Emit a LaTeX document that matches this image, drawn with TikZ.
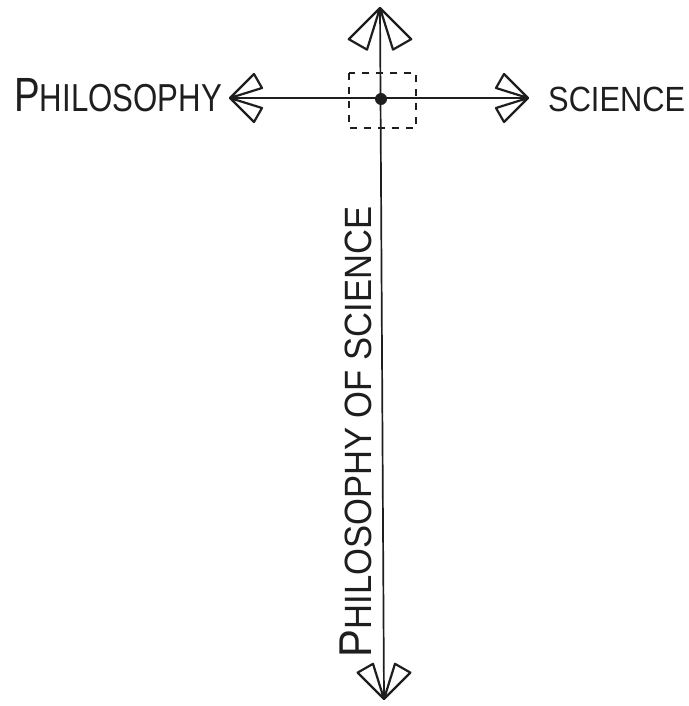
\documentclass[tikz,border=0pt]{standalone}
\usepackage{fontspec}
\setmainfont{Liberation Sans}
\definecolor{ink}{HTML}{1E1E1E}
\tikzset{
  axis/.style={draw=ink, line width=1.7pt},
  barb/.style={draw=ink, line width=2.2pt, line join=round, fill=white},
  dashbox/.style={draw=ink, line width=1.4pt, dash pattern=on 7pt off 7pt},
  lbl/.style={inner sep=0pt, text=ink},
  barbs/.pic={
    \draw[barb] (0,0) -- (-24,24) -- (-32,10) -- cycle;
    \draw[barb] (0,0) -- (-24,-24) -- (-32,-10) -- cycle;
  }
}
\begin{document}
\begin{tikzpicture}[x=1pt,y=1pt]
\useasboundingbox[fill=white] (0,0) rectangle (688,-706);
\coordinate (c) at (381,-99);
\coordinate (l) at (230,-98);
\coordinate (r) at (528,-98);
\coordinate (t) at (380,-8);
\coordinate (b) at (384,-699);
\draw[dashbox] (349,-73) rectangle (416,-128);
\draw[axis] (l) -- (r);
\draw[axis] (t) -- (b);
\fill[ink] (c) circle (6);
\pic[rotate=180] at (l) {barbs};
\pic at (r) {barbs};
\pic[rotate=90, scale=1.3] at (t) {barbs};
\pic[rotate=-90, scale=1.1] at (b) {barbs};
\node[lbl, anchor=base, rotate=90] (pos) at (371,-432)
  {\scalebox{0.91}[1]{{\fontsize{46}{46}\selectfont P}{\fontsize{38}{38}\selectfont HILOSOPHY OF SCIENCE}}};
\node[lbl, anchor=base west] (phil) at (14,-111)
  {\scalebox{0.8}[1]{{\fontsize{48}{48}\selectfont P}{\fontsize{39}{39}\selectfont HILOSOPHY}}};
\node[lbl, anchor=base west] (sci) at (548,-111)
  {\scalebox{0.88}[1]{\fontsize{35}{35}\selectfont SCIENCE}};
\end{tikzpicture}
\end{document}
